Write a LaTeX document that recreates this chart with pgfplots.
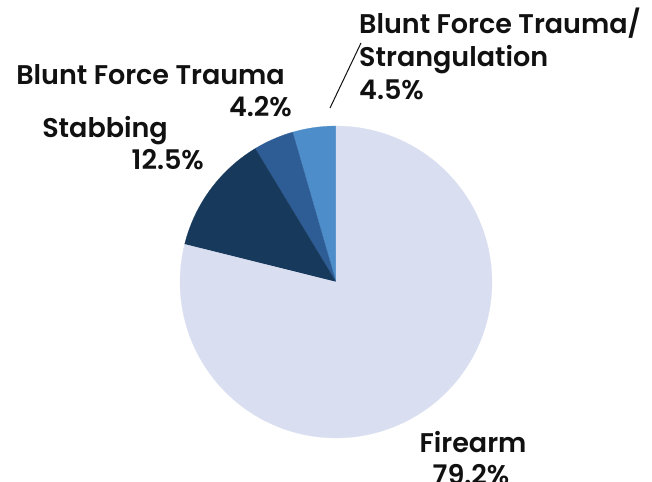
\documentclass[border=0pt]{standalone}
\usepackage{pgfplots}
\pgfplotsset{compat=1.18}
\usepackage{fontspec}
\setmainfont{Poppins SemiBold}
\definecolor{cFire}{HTML}{D9DFF0}
\definecolor{cStab}{HTML}{17395C}
\definecolor{cBFT}{HTML}{2E5D96}
\definecolor{cBFTS}{HTML}{4D8DC9}
\definecolor{txt}{HTML}{111111}
% percentages
\def\pBFTS{4.5}
\def\pBFT{4.2}
\def\pStab{12.5}
\def\pFire{79.2}
\pgfmathsetmacro\tot{\pBFTS+\pBFT+\pStab+\pFire}
\pgfmathsetmacro\aA{90}
\pgfmathsetmacro\aB{\aA+\pBFTS/\tot*360}
\pgfmathsetmacro\aC{\aB+\pBFT/\tot*360}
\pgfmathsetmacro\aD{\aC+\pStab/\tot*360}
\pgfmathsetmacro\aE{450}
\newcommand{\slice}[4]{%
  \addplot[fill=#3, draw=#3, line width=0.2pt, samples at={-1,0,1,...,#4,#4+1}, variable=\t]
  ({ (\t<0 || \t>#4) ? 336 : 336+156*cos(#1+\t/#4*(#2-#1)) },
   { (\t<0 || \t>#4) ? 200 : 200+156*sin(#1+\t/#4*(#2-#1)) });
}
\begin{document}
\begin{tikzpicture}
\begin{axis}[width=652bp,height=482bp,scale only axis,
  xmin=0,xmax=652,ymin=0,ymax=482,hide axis,clip=false]
\slice{\aA}{\aB}{cBFTS}{20}
\slice{\aB}{\aC}{cBFT}{20}
\slice{\aC}{\aD}{cStab}{40}
\slice{\aD}{\aE}{cFire}{140}
\addplot[txt, line width=1pt] coordinates {(330,374) (361,439)};
\begin{scope}[every node/.style={font=\fontsize{27bp}{33bp}\selectfont, text=txt, inner sep=0pt}]
\node[anchor=base west] at (axis cs:359,448) {Blunt Force Trauma/};
\node[anchor=base west] at (axis cs:359,415) {Strangulation};
\node[anchor=base west] at (axis cs:359,382) {4.5\%};
\node[anchor=base east] at (axis cs:285,397) {Blunt Force Trauma};
\node[anchor=base east] at (axis cs:292,365) {4.2\%};
\node[anchor=base east] at (axis cs:168,344) {Stabbing};
\node[anchor=base east] at (axis cs:204,312) {12.5\%};
\node[anchor=base] at (axis cs:473,30) {Firearm};
\node[anchor=base] at (axis cs:471,-2) {79.2\%};
\end{scope}
\end{axis}
\pgfresetboundingbox
\path[use as bounding box] (current axis.south west) rectangle (current axis.north east);
\end{tikzpicture}
\end{document}
